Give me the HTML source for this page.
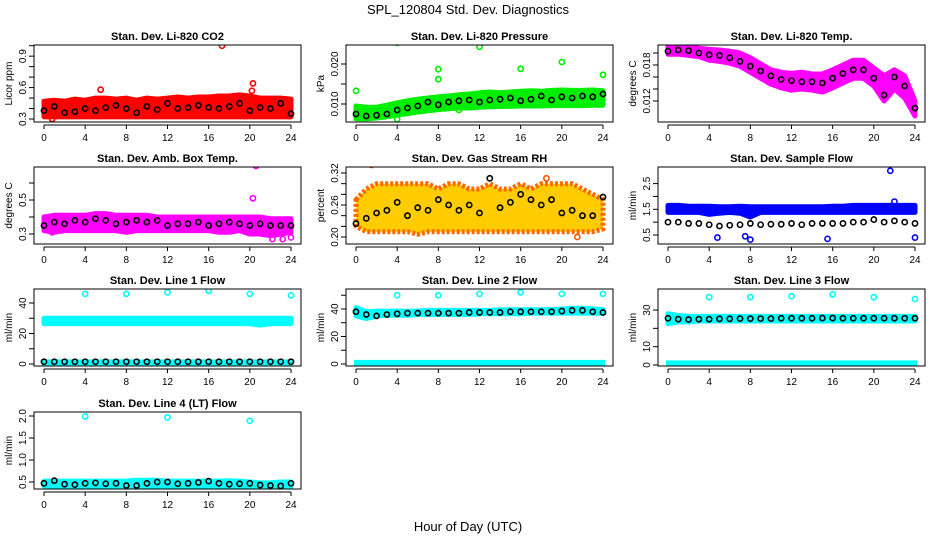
<!DOCTYPE html>
<html><head><meta charset="utf-8"><style>
body{margin:0;background:#fff;}
svg{display:block;font-family:"Liberation Sans",sans-serif;}
</style></head><body>
<svg id="chart" width="936" height="540" viewBox="0 0 936 540" xmlns="http://www.w3.org/2000/svg">
<rect width="936" height="540" fill="#fff"/>
<text x="468" y="14" font-size="13" text-anchor="middle">SPL_120804  Std. Dev. Diagnostics</text>
<text x="468" y="531" font-size="13" text-anchor="middle">Hour of Day (UTC)</text>
</svg>
<script>
const hours=[0,1,2,3,4,5,6,7,8,9,10,11,12,13,14,15,16,17,18,19,20,21,22,23,24];
const xTicks=[0,4,8,12,16,20,24];
// CO2
const co2Lo=[0.32,0.32,0.32,0.32,0.32,0.32,0.32,0.32,0.32,0.32,0.32,0.32,0.32,0.32,0.32,0.32,0.32,0.32,0.32,0.32,0.32,0.32,0.32,0.32,0.32];
const co2Hi=[0.47,0.48,0.47,0.49,0.48,0.50,0.50,0.49,0.50,0.48,0.50,0.49,0.50,0.51,0.50,0.51,0.51,0.52,0.52,0.53,0.52,0.50,0.50,0.50,0.49];
const co2Black=[0.38,0.42,0.36,0.37,0.40,0.38,0.41,0.43,0.40,0.36,0.42,0.39,0.45,0.40,0.41,0.43,0.41,0.40,0.42,0.45,0.38,0.41,0.40,0.45,0.35];
const co2OutX=[5.5,17.3,20.3,20.2,0.8];
const co2OutY=[0.58,1.0,0.64,0.57,0.30];
// Pressure
const prLo=[0.0063,0.0063,0.0065,0.0068,0.0072,0.0076,0.008,0.0083,0.0086,0.0088,0.009,0.009,0.0092,0.0093,0.0094,0.0094,0.0095,0.0095,0.0095,0.0096,0.0096,0.0096,0.0096,0.0097,0.0097];
const prHi=[0.0095,0.0092,0.0092,0.0097,0.0103,0.0108,0.0112,0.0115,0.0118,0.012,0.0123,0.0125,0.0128,0.013,0.0128,0.013,0.0132,0.0133,0.0132,0.0134,0.0135,0.0134,0.0134,0.0135,0.0133];
const prBlack=[0.0075,0.007,0.0072,0.0075,0.0085,0.009,0.0095,0.0105,0.0098,0.0105,0.0108,0.011,0.0105,0.011,0.0112,0.0115,0.0108,0.0112,0.012,0.011,0.0118,0.0115,0.012,0.0118,0.0125];
const prOutX=[0,4,8,8,12,16,20,24,4,10];
const prOutY=[0.0133,0.0253,0.0187,0.0162,0.0243,0.0188,0.0205,0.0173,0.0062,0.0085];
// Temp
const tHi=[0.0212,0.0212,0.021,0.0208,0.0206,0.0205,0.0203,0.020,0.0192,0.0182,0.0172,0.0168,0.0166,0.0168,0.0165,0.0165,0.0172,0.018,0.0188,0.0188,0.0175,0.0162,0.0172,0.0162,0.012];
const tLo=[0.0198,0.0198,0.0196,0.0194,0.0188,0.0186,0.0183,0.0178,0.0168,0.0158,0.0148,0.0142,0.0138,0.0140,0.0138,0.0135,0.0142,0.015,0.0158,0.0158,0.0145,0.0120,0.0140,0.0125,0.0095];
const tBlack=[0.0203,0.0205,0.0204,0.020,0.0197,0.0196,0.0192,0.0186,0.0178,0.017,0.0162,0.0156,0.0154,0.0152,0.0152,0.015,0.0158,0.0166,0.0172,0.0172,0.0158,0.0130,0.016,0.0145,0.0108];
const tOutX=[];
const tOutY=[];
// Amb box temp
const abHi=[0.40,0.41,0.41,0.41,0.41,0.42,0.42,0.41,0.41,0.41,0.41,0.40,0.40,0.40,0.40,0.40,0.40,0.40,0.40,0.40,0.40,0.40,0.39,0.39,0.39];
const abLo=[0.32,0.31,0.32,0.32,0.32,0.32,0.32,0.32,0.31,0.32,0.32,0.32,0.32,0.32,0.32,0.32,0.32,0.31,0.31,0.32,0.30,0.30,0.29,0.30,0.31];
const abBlack=[0.35,0.37,0.36,0.38,0.37,0.39,0.38,0.36,0.37,0.38,0.37,0.38,0.35,0.36,0.36,0.37,0.35,0.36,0.37,0.36,0.35,0.36,0.35,0.35,0.35];
const abOutX=[20.6,20.3,22.2,23.2,24,0.8];
const abOutY=[0.70,0.51,0.27,0.27,0.28,0.31];
// RH
const rhHi=[0.27,0.29,0.30,0.30,0.30,0.30,0.30,0.30,0.29,0.30,0.30,0.29,0.29,0.30,0.29,0.29,0.30,0.29,0.30,0.30,0.30,0.30,0.29,0.28,0.27];
const rhLo=[0.22,0.21,0.21,0.21,0.21,0.21,0.205,0.21,0.21,0.21,0.21,0.21,0.21,0.21,0.21,0.21,0.21,0.21,0.21,0.21,0.21,0.21,0.21,0.21,0.215];
const rhBlack=[0.225,0.235,0.245,0.25,0.265,0.24,0.255,0.25,0.27,0.26,0.25,0.26,0.245,0.31,0.255,0.265,0.28,0.27,0.26,0.27,0.245,0.25,0.24,0.24,0.275];
const rhOutX=[1.5,18.5,21.5];
const rhOutY=[0.335,0.31,0.20];
// Sample flow
const sfHi=[1.65,1.65,1.62,1.62,1.62,1.6,1.6,1.62,1.6,1.6,1.6,1.6,1.6,1.6,1.6,1.6,1.62,1.62,1.65,1.65,1.65,1.65,1.65,1.65,1.65];
const sfLo=[1.38,1.38,1.38,1.38,1.3,1.35,1.38,1.35,1.2,1.38,1.38,1.38,1.38,1.38,1.38,1.38,1.38,1.38,1.38,1.38,1.38,1.38,1.38,1.38,1.38];
const sfBlack=[1.0,1.0,0.95,0.95,0.9,0.85,0.88,0.9,0.95,0.9,0.92,0.92,0.95,0.9,0.95,0.95,0.95,0.95,1.0,1.0,1.1,1.0,1.05,1.0,0.95];
const sfOutX=[4.8,7.5,8,15.5,21.6,22,24];
const sfOutY=[0.4,0.45,0.32,0.35,3.0,1.8,0.4];
// Line 1
const l1Hi=[30,30,30,30,30,30,30,30,30,30,30,30,30,30,30,30,30,30,30,30,30,30,30,30,30];
const l1Lo=[26.5,26.5,26.5,26.5,26.5,26.5,26.5,26.5,26.5,26.5,26.5,26.5,26.5,26.5,26.5,26.5,26.5,26.5,26.5,26.5,26.5,25.5,26.5,26.5,26.5];
const l1Black=[1.5,1.5,1.5,1.5,1.5,1.5,1.5,1.5,1.5,1.5,1.5,1.5,1.5,1.5,1.5,1.5,1.5,1.5,1.5,1.5,1.5,1.5,1.5,1.5,1.5];
const l1OutX=[4,8,12,16,20,24];
const l1OutY=[46,46,47,48,46,45];
// Line 2
const l2Hi=[41,38,38.5,38.5,38.5,38.5,38.5,39,39,39,39,39,39,39,39.5,39.5,39.5,39.5,39.5,39.5,40,40.5,40.5,40,39.5];
const l2Lo=[35,33,35,35.5,35.5,35.5,36,36,36,36,36,36,36.5,36.5,36.5,36.5,36.5,37,37,37,37,37,37,37,37];
const l2Black=[38,36,35,36,36.5,37,37,37,37,37,37,37.5,37.5,37.5,37.5,38,38,38,38,38,38.5,39,39,38,37.5];
const l2OutX=[4,8,12,16,20,24];
const l2OutY=[50,50,51,52,51,51];
// Line 3
const l3Hi=[28,27,26.5,26.5,26.5,26.5,26.5,26.5,26.5,26.5,26.5,26.5,26.5,26.5,26.5,26.5,26.5,26.5,26.5,26.5,26.5,26.5,26.5,26.5,26.5];
const l3Lo=[22.5,23.5,23.5,24,24,24,24,24,24,24,24,24,24,24,24,24,24,24,24,24,24,24,24,24,24];
const l3Black=[25.5,25,24.8,25,25,25.2,25.2,25.3,25.3,25.3,25.3,25.5,25.5,25.5,25.5,25.6,25.6,25.5,25.5,25.5,25.5,25.5,25.5,25.5,25.5];
const l3OutX=[4,8,12,16,20,24];
const l3OutY=[37,37,37.5,38.5,37,36];
// Line 4
const l4Hi=[0.52,0.52,0.52,0.52,0.52,0.52,0.52,0.52,0.52,0.54,0.54,0.54,0.52,0.52,0.52,0.52,0.52,0.52,0.53,0.52,0.50,0.48,0.48,0.50,0.50];
const l4Lo=[0.41,0.41,0.40,0.40,0.41,0.41,0.41,0.41,0.40,0.40,0.41,0.41,0.41,0.41,0.41,0.41,0.41,0.41,0.41,0.41,0.40,0.38,0.38,0.39,0.40];
const l4Black=[0.47,0.53,0.45,0.44,0.47,0.48,0.46,0.47,0.42,0.42,0.47,0.5,0.5,0.46,0.47,0.49,0.52,0.47,0.45,0.46,0.47,0.43,0.42,0.41,0.47];
const l4OutX=[4,12,20];
const l4OutY=[1.99,1.97,1.89];

const svg=document.getElementById('chart');
const NS='http://www.w3.org/2000/svg';
function mk(tag,attrs,parent){const e=document.createElementNS(NS,tag);for(const k in attrs)e.setAttribute(k,attrs[k]);(parent||svg).appendChild(e);return e;}

const panels=[
 {id:'co2',title:'Stan. Dev. Li-820 CO2',yt:'Licor ppm',col:0,row:0,color:'#ff0000',v0:0.3,p0:119,v1:1.0,p1:45.7,ticks:[0.3,0.4,0.5,0.6,0.7,0.8,0.9,1.0],labels:['0.3','0.6','0.9'],lo:co2Lo,hi:co2Hi,black:co2Black,ox:co2OutX,oy:co2OutY},
 {id:'pressure',title:'Stan. Dev. Li-820 Pressure',yt:'kPa',col:1,row:0,color:'#00ee00',v0:0.010,p0:104,v1:0.020,p1:64,ticks:[0.010,0.015,0.020],labels:['0.010','0.020'],lo:prLo,hi:prHi,black:prBlack,ox:prOutX,oy:prOutY},
 {id:'temp',title:'Stan. Dev. Li-820 Temp.',yt:'degrees C',col:2,row:0,color:'#ff00ff',v0:0.012,p0:101,v1:0.018,p1:65,ticks:[0.012,0.014,0.016,0.018,0.020],labels:['0.012','0.018'],lo:tLo,hi:tHi,black:tBlack,ox:tOutX,oy:tOutY},
 {id:'box-temp',title:'Stan. Dev. Amb. Box Temp.',yt:'degrees C',col:0,row:1,color:'#ff00ff',v0:0.3,p0:234,v1:0.5,p1:200,ticks:[0.3,0.4,0.5,0.6],labels:['0.3','0.5'],lo:abLo,hi:abHi,black:abBlack,ox:abOutX,oy:abOutY},
 {id:'rh',title:'Stan. Dev. Gas Stream RH',yt:'percent',col:1,row:1,color:'#f2a400',v0:0.20,p0:237,v1:0.32,p1:173,ticks:[0.20,0.22,0.24,0.26,0.28,0.30,0.32],labels:['0.20','0.26','0.32'],lo:rhLo,hi:rhHi,black:rhBlack,ox:rhOutX,oy:rhOutY},
 {id:'sample-flow',title:'Stan. Dev. Sample Flow',yt:'ml/min',col:2,row:1,color:'#0000ff',v0:0.5,p0:235,v1:2.5,p1:183.6,ticks:[0.5,1.0,1.5,2.0,2.5],labels:['0.5','1.5','2.5'],lo:sfLo,hi:sfHi,black:sfBlack,ox:sfOutX,oy:sfOutY},
 {id:'line1-flow',title:'Stan. Dev. Line 1 Flow',yt:'ml/min',col:0,row:2,color:'#00ffff',v0:0,p0:364,v1:40,p1:303,ticks:[0,10,20,30,40],labels:['0','20','40'],lo:l1Lo,hi:l1Hi,black:l1Black,ox:l1OutX,oy:l1OutY,low:[0,3]},
 {id:'line2-flow',title:'Stan. Dev. Line 2 Flow',yt:'ml/min',col:1,row:2,color:'#00ffff',v0:0,p0:364,v1:40,p1:309,ticks:[0,10,20,30,40,50],labels:['0','20','40'],lo:l2Lo,hi:l2Hi,black:l2Black,ox:l2OutX,oy:l2OutY,low:[0,3]},
 {id:'line3-flow',title:'Stan. Dev. Line 3 Flow',yt:'ml/min',col:2,row:2,color:'#00ffff',v0:0,p0:365,v1:30,p1:310,ticks:[0,10,20,30],labels:['0','10','30'],lo:l3Lo,hi:l3Hi,black:l3Black,ox:l3OutX,oy:l3OutY,low:[0,2.5]},
 {id:'line4-flow',title:'Stan. Dev. Line 4 (LT) Flow',yt:'ml/min',col:0,row:3,color:'#00ffff',v0:0.5,p0:482,v1:2.0,p1:416,ticks:[0.5,1.0,1.5,2.0],labels:['0.5','1.0','1.5','2.0'],lo:l4Lo,hi:l4Hi,black:l4Black,ox:l4OutX,oy:l4OutY}
];
const boxTops=[45,167,289,412];

panels.forEach(p=>{
  const x0=44+312*p.col, bl=x0-10, br=x0+257;
  const bt=boxTops[p.row], bb=bt+77;
  const xs=v=>x0+v*247/24;
  const ys=v=>p.p0+(v-p.v0)*(p.p1-p.p0)/(p.v1-p.v0);
  const g=mk('g',{});
  
  
  const clipId='clip-'+p.id;
  const cp=mk('clipPath',{id:clipId},g);
  mk('rect',{x:bl,y:bt,width:br-bl,height:bb-bt},cp);
  const pg=mk('g',{'clip-path':'url(#'+clipId+')'},g);
  let pts=hours.map((h,i)=>xs(h).toFixed(1)+','+ys(p.hi[i]).toFixed(1));
  pts=pts.concat(hours.map((h,i)=>xs(h).toFixed(1)+','+ys(p.lo[i]).toFixed(1)).reverse());
  const band=mk('polygon',{points:pts.join(' '),fill:p.color,stroke:p.color,'stroke-width':5,'stroke-linejoin':'round'},pg);
  
  
  if(p.id==='rh'){band.setAttribute('fill','#ffcc00');band.setAttribute('stroke','#ff6a00');band.setAttribute('stroke-dasharray','3 2');}
  if(p.low){
    const lb=mk('rect',{x:xs(0)-2,y:ys(p.low[1]),width:xs(24)-xs(0)+4,height:ys(p.low[0])-ys(p.low[1])+2,fill:p.color},pg);
    
    
  }
  p.ox.forEach((v,i)=>{
    const c=mk('circle',{cx:xs(v),cy:ys(p.oy[i]),r:2.6,fill:'none',stroke:p.color==='#f2a400'?'#ff5500':p.color,'stroke-width':1.6},pg);
    
    
  });
  p.black.forEach((v,i)=>{
    const c=mk('circle',{cx:xs(hours[i]),cy:ys(v),r:2.6,fill:'none',stroke:'#000','stroke-width':1.6},pg);
    
    
  });
  const box=mk('rect',{x:bl,y:bt,width:br-bl,height:bb-bt,fill:'none',stroke:'#000','stroke-width':1},g);
  
  
  const t=mk('text',{x:(bl+br)/2,y:bt-5,'font-size':11,'font-weight':'bold','text-anchor':'middle'},g);
  t.textContent=p.title;
  
  
  const yt=mk('text',{transform:'translate('+(bl-22)+','+((bt+bb)/2)+') rotate(-90)','font-size':10,'text-anchor':'middle'},g);
  yt.textContent=p.yt;
  
  
  p.ticks.forEach(v=>{
    const y=ys(v);
    mk('line',{x1:bl-5,x2:bl,y1:y,y2:y,stroke:'#000'},g);
    const match=p.labels.find(s=>Math.abs(parseFloat(s)-v)<1e-9);
    if(match){
      const tl=mk('text',{transform:'translate('+(bl-8)+','+y+') rotate(-90)','font-size':10,'text-anchor':'middle'},g);
      tl.textContent=match;
      
      
    }
  });
  mk('line',{x1:xs(0),x2:xs(24),y1:bb+3,y2:bb+3,stroke:'#000'},g);
  xTicks.forEach(v=>{
    mk('line',{x1:xs(v),x2:xs(v),y1:bb+3,y2:bb+7,stroke:'#000'},g);
    const tl=mk('text',{x:xs(v),y:bb+19,'font-size':10,'text-anchor':'middle'},g);
    tl.textContent=v;
    
    
  });
});
</script>
</body></html>
